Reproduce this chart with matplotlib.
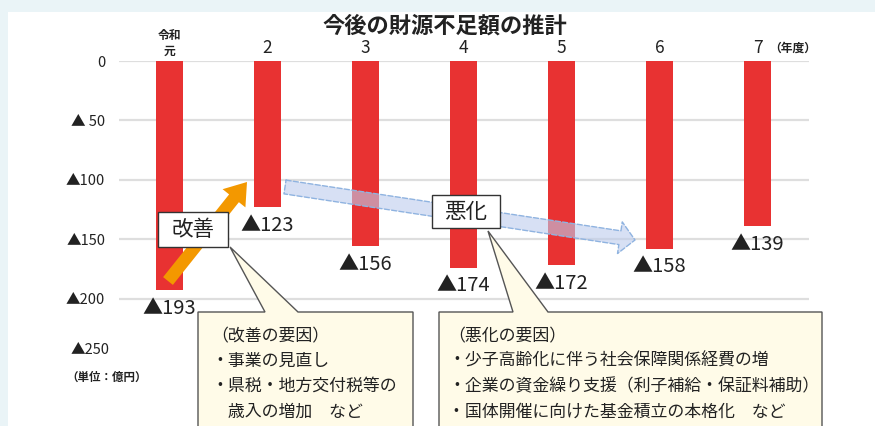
import matplotlib
matplotlib.use("Agg")
import matplotlib.pyplot as plt
from matplotlib.patches import Rectangle, Polygon, FancyArrowPatch
from matplotlib.transforms import Affine2D, blended_transform_factory

plt.rcParams['font.family'] = ['Noto Sans CJK JP', 'DejaVu Sans']

# ---- data ----
categories = ["令和\n元", "2", "3", "4", "5", "6", "7"]
deficit = [193, 123, 156, 174, 172, 158, 139]   # 億円 (shown as ▲)
ytick_vals = [0, 50, 100, 150, 200]
ytick_labels = ["0", "▲ 50", "▲100", "▲150", "▲200"]
title = "今後の財源不足額の推計"
unit_label = "（単位：億円）"
year_label = "（年度）"
good_lines = ["（改善の要因）", "・事業の見直し", "・県税・地方交付税等の", "　歳入の増加　など"]
bad_lines = ["（悪化の要因）", "・少子高齢化に伴う社会保障関係経費の増",
             "・企業の資金繰り支援（利子補給・保証料補助）", "・国体開催に向けた基金積立の本格化　など"]

W, H = 875, 426
fig = plt.figure(figsize=(W / 100, H / 100), dpi=100, facecolor="white")
tr = Affine2D().scale(1 / W, -1 / H).translate(0, 1) + fig.transFigure  # pixel coords, origin top-left

# background bands
fig.add_artist(Rectangle((0, 0), W, 12, transform=tr, facecolor="#eaf4f7", edgecolor="none", zorder=-5))
fig.add_artist(Rectangle((0, 0), 8, H, transform=tr, facecolor="#eaf4f7", edgecolor="none", zorder=-5))

ax = fig.add_axes([119 / W, 1 - 358 / H, 690 / W, 297 / H])
ax.set_facecolor("none")
x = list(range(len(categories)))
ax.set_xlim(-0.515, 6.525)
ax.set_ylim(-250, 0)
for s in ax.spines.values():
    s.set_visible(False)

for v in ytick_vals:
    ax.axhline(-v, color="#dedede", lw=1.6, zorder=1)

ax.bar(x, [-d for d in deficit], width=0.276, color="#e83232", zorder=2)

ax.set_xticks([])
ax.set_yticks([-v for v in ytick_vals])
ax.set_yticklabels(ytick_labels, fontsize=10.5, color="#222222")
ax.tick_params(axis="y", length=0, pad=10)
ax.text(-0.013, -243, "▲250", transform=blended_transform_factory(ax.transAxes, ax.transData),
        ha="right", va="center", fontsize=10.5, color="#222222")

# value labels
for xi, d in zip(x, deficit):
    ax.annotate(f"▲{d}", (xi, -d), xytext=(0, -5.5), textcoords="offset points",
                ha="center", va="top", fontsize=14.5, color="#222222")

# category labels on top
btr = blended_transform_factory(ax.transData, tr)
for xi, c in zip(x, categories):
    if "\n" in c:
        top, bottom = c.split("\n")
        ax.text(xi, 35, top, transform=btr, ha="center", va="center", fontsize=8.5,
                color="#222222", fontweight="bold")
        ax.text(xi, 51, bottom, transform=btr, ha="center", va="center", fontsize=8.5,
                color="#222222", fontweight="bold")
    else:
        ax.text(xi, 48, c, transform=btr, ha="center", va="center", fontsize=12.5, color="#222222")
fig.text(793, 48, year_label, transform=tr, ha="center", va="center", fontsize=8.5,
         color="#222222", fontweight="bold")

fig.text(445, 26, title, transform=tr, ha="center", va="center", fontsize=16, fontweight="bold",
         color="#222222")
fig.text(107, 377, unit_label, transform=tr, ha="center", va="center", fontsize=8.3,
         color="#222222", fontweight="bold")

# blue trend arrow
blue = FancyArrowPatch((285, 187), (635, 240), transform=tr,
                       arrowstyle="simple,head_length=11,head_width=23,tail_width=10",
                       facecolor=(0.74, 0.80, 0.93, 0.6), edgecolor="#8fb3e0", linestyle="--",
                       lw=1.0, shrinkA=0, shrinkB=0, zorder=3)
fig.add_artist(blue)

# orange arrow
orange = FancyArrowPatch((168, 281), (247, 182), transform=tr,
                         arrowstyle="simple,head_length=15,head_width=21,tail_width=9",
                         facecolor="#f39800", edgecolor="none", shrinkA=0, shrinkB=0, zorder=4)
fig.add_artist(orange)

# labels boxes
fig.add_artist(Rectangle((158, 212), 70, 35, transform=tr, facecolor="white", edgecolor="#333333",
                         lw=1.0, zorder=5))
fig.text(193, 229.5, "改善", transform=tr, ha="center", va="center", fontsize=15.5,
         color="#222222", zorder=6)
fig.add_artist(Rectangle((432, 195), 68, 33, transform=tr, facecolor="white", edgecolor="#333333",
                         lw=1.0, zorder=5))
fig.text(466, 211.5, "悪化", transform=tr, ha="center", va="center", fontsize=15.5,
         color="#222222", zorder=6)

# callouts
c1 = Polygon([(198, 312), (265, 312), (230, 247), (298, 312), (413, 312), (413, 440), (198, 440)],
             closed=True, transform=tr, facecolor="#fffbe8", edgecolor="#555555", lw=1.0, zorder=6)
c2 = Polygon([(439, 312), (513, 312), (488, 231), (548, 312), (822, 312), (822, 440), (439, 440)],
             closed=True, transform=tr, facecolor="#fffbe8", edgecolor="#555555", lw=1.0, zorder=6)
fig.add_artist(c1)
fig.add_artist(c2)

ys = [336, 361, 386, 412]
for yy, t in zip(ys, good_lines):
    fig.text(211, yy, t, transform=tr, ha="left", va="center", fontsize=12.2, color="#222222", zorder=7)
for yy, t in zip(ys, bad_lines):
    fig.text(448, yy, t, transform=tr, ha="left", va="center", fontsize=12.2, color="#222222", zorder=7)

fig.savefig("out.png", dpi=100, facecolor="white")
